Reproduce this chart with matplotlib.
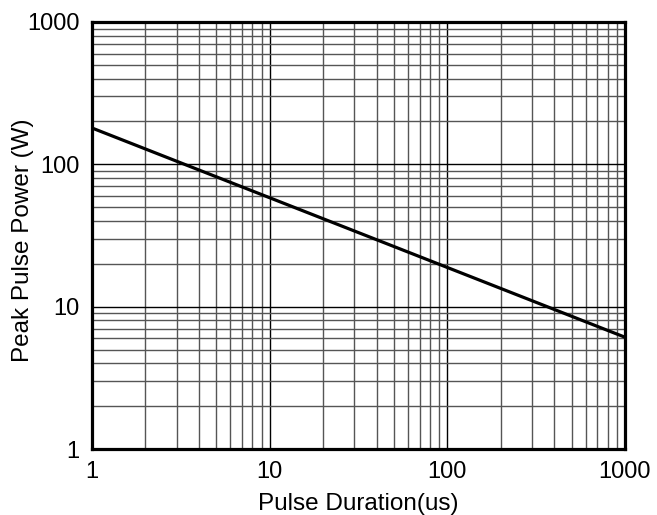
import matplotlib
matplotlib.use('Agg')
import matplotlib.pyplot as plt
from matplotlib.ticker import FixedLocator, LogLocator, NullFormatter

plt.rcParams['font.family'] = ['Liberation Sans', 'DejaVu Sans']

# curve
duration = [1, 1000]   # us
power = [180, 6.1]     # W

x_ticks = [1, 10, 100, 1000]
y_ticks = [1, 10, 100, 1000]

fig = plt.figure(figsize=(6.57, 5.15), dpi=100)
ax = fig.add_axes([92 / 657, 1 - 449 / 515, 533 / 657, 427 / 515])

ax.plot(duration, power, color='black', lw=2.3, solid_capstyle='butt', zorder=3)

ax.set_xscale('log')
ax.set_yscale('log')
ax.set_xlim(1, 1000)
ax.set_ylim(1, 1000)

ax.xaxis.set_major_locator(FixedLocator(x_ticks))
ax.yaxis.set_major_locator(FixedLocator(y_ticks))
ax.set_xticklabels([str(v) for v in x_ticks])
ax.set_yticklabels([str(v) for v in y_ticks])
ax.xaxis.set_minor_locator(LogLocator(base=10, subs=range(2, 10)))
ax.yaxis.set_minor_locator(LogLocator(base=10, subs=range(2, 10)))
ax.xaxis.set_minor_formatter(NullFormatter())
ax.yaxis.set_minor_formatter(NullFormatter())

ax.grid(True, which='major', color='black', lw=1.0)
ax.grid(True, which='minor', color='#555555', lw=1.0)
ax.tick_params(which='both', length=0, labelsize=17, pad=9)

for s in ax.spines.values():
    s.set_linewidth(2.3)

ax.set_xlabel('Pulse Duration(us)', fontsize=17.5, labelpad=7)
ax.set_ylabel('Peak Pulse Power (W)', fontsize=17.5)
ax.yaxis.set_label_coords(-0.108, 0.49)

fig.savefig('out.png', dpi=100)
